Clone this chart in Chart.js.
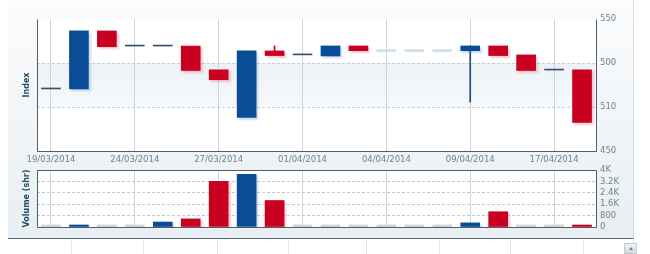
<!DOCTYPE html>
<html>
<head>
<meta charset="utf-8">
<script src="https://cdn.jsdelivr.net/npm/chart.js@4.4.1/dist/chart.umd.min.js"></script>
<style>
    html, body { margin: 0; padding: 0; background: #fff; }
    #wrap { position: relative; width: 650px; height: 254px; overflow: hidden; }
    #panel {
        position: absolute; left: 8px; top: 0; width: 625px; height: 238px;
        background: linear-gradient(#fbfcfd, #e8eef2);
        border-right: 1px solid #d4dde3; border-bottom: 1px solid #56677a;
    }
    #priceBox { position: absolute; left: 0; top: 0; width: 650px; height: 170px; }
    #volBox { position: absolute; left: 0; top: 160px; width: 650px; height: 80px; }
    .sep { position: absolute; top: 239px; width: 1px; height: 15px; background: #e2e7eb; }
    #scrollBtn {
        position: absolute; left: 624px; top: 243px; width: 13px; height: 11px;
        background: linear-gradient(#eef2f5, #d3dbe2); border: 1px solid #c3ccd4; box-sizing: border-box;
    }
    #scrollBtn:after {
        content: ''; position: absolute; left: 4px; top: 3px;
        border-left: 2px solid transparent; border-right: 2px solid transparent; border-bottom: 3px solid #6a7a88;
    }
</style>
</head>
<body>
<div id="wrap">
    <div id="panel"></div>
    <div id="priceBox"><canvas id="priceChart"></canvas></div>
    <div id="volBox"><canvas id="volChart"></canvas></div>
    <div class="sep" style="left:71px"></div>
    <div class="sep" style="left:143px"></div>
    <div class="sep" style="left:217px"></div>
    <div class="sep" style="left:288px"></div>
    <div class="sep" style="left:366px"></div>
    <div class="sep" style="left:439px"></div>
    <div class="sep" style="left:510px"></div>
    <div class="sep" style="left:583px"></div>
    <div id="scrollBtn"></div>
</div>
<script>
// ---- Data ----
const dates = ['19/03/2014', '20/03/2014', '21/03/2014', '24/03/2014', '25/03/2014',
    '26/03/2014', '27/03/2014', '28/03/2014', '31/03/2014', '01/04/2014',
    '02/04/2014', '03/04/2014', '04/04/2014', '07/04/2014', '08/04/2014',
    '09/04/2014', '11/04/2014', '15/04/2014', '17/04/2014', '22/04/2014'];
const openVals  = [497, 497, 541, 529.5, 529.5, 529.5, 511.5, 475.5, 525.8, 522.8, 522, 529.6, 525.3, 525.3, 525.3, 526, 529.6, 522.8, 511.3, 511.5];
const closeVals = [497, 541, 529, 529.5, 529.5, 511, 504, 525.8, 522.3, 522.8, 529.6, 526, 525.3, 525.3, 525.3, 529.6, 522.3, 511, 511.3, 471.7];
const highVals  = [497, 541, 541, 529.5, 529.5, 529.5, 511.5, 525.8, 529.6, 522.8, 529.6, 529.6, 525.3, 525.3, 525.3, 529.6, 529.6, 522.8, 511.3, 511.5];
const lowVals   = [497, 497, 529, 529.5, 529.5, 511, 504, 475.5, 522.3, 522.8, 522, 526, 525.3, 525.3, 525.3, 487.1, 522.3, 511, 511.3, 471.7];
const noQuoteDays = [12, 13, 14]; // drawn as pale dashes
const volumes    = [0, 10, 0, 0, 350, 570, 3210, 3690, 1860, 0, 0, 0, 0, 0, 0, 290, 1070, 0, 0, 120];
const volumeSide = ['none', 'buy', 'none', 'none', 'buy', 'sell', 'sell', 'buy', 'sell', 'none',
    'none', 'none', 'none', 'none', 'none', 'buy', 'sell', 'none', 'none', 'sell'];
const priceTickLabels = ['450', '510', '500', '550'];
const volumeTickLabels = ['0', '800', '1.6K', '2.4K', '3.2K', '4K'];

const BLUE = '#0b4c96';
const RED = '#c9001f';
const FLAT = '#34506d';
const PALE = '#cfdfea';
const GREY = '#c8cfd5';
const LABEL_FONT = { family: 'DejaVu Sans', size: 8.5 };
const BLUE_SHADOW = 'rgba(70,120,180,0.28)';
const RED_SHADOW = 'rgba(225,70,100,0.28)';

const dir = dates.map((d, i) => closeVals[i] > openVals[i] ? 'up' : (closeVals[i] < openVals[i] ? 'down' : 'flat'));

function pick(test, fn) {
    return dates.map((d, i) => test(i) ? fn(i) : null);
}

// ---- Shared plugins ----
const shadowPlugin = {
    id: 'shadow',
    beforeDatasetDraw(chart, args) {
        const ds = chart.data.datasets[args.index];
        const ctx = chart.ctx;
        ctx.save();
        if (ds.shadow) {
            ctx.shadowColor = ds.shadow;
            ctx.shadowOffsetX = 2;
            ctx.shadowOffsetY = 2;
            ctx.shadowBlur = 2;
        }
    },
    afterDatasetDraw(chart) {
        chart.ctx.restore();
    }
};

function framePlugin(opts) {
    return {
        id: 'frame',
        beforeDraw(chart) {
            const { ctx, chartArea: a } = chart;
            ctx.save();
            ctx.fillStyle = '#fff';
            ctx.fillRect(a.left, a.top, a.right - a.left, a.bottom - a.top);
            if (opts.band) {
                const y = chart.scales.y;
                const t = y.getPixelForValue(y.ticks[2].value);
                const b = y.getPixelForValue(y.ticks[1].value);
                const g = ctx.createLinearGradient(0, t, 0, b);
                g.addColorStop(0, '#edf2f6');
                g.addColorStop(1, '#f6f9fb');
                ctx.fillStyle = g;
                ctx.fillRect(a.left, t, a.right - a.left, b - t);
            }
            ctx.restore();
        },
        afterDraw(chart) {
            const { ctx, chartArea: a } = chart;
            ctx.save();
            ctx.strokeStyle = '#4f5d69';
            ctx.lineWidth = 1;
            ctx.beginPath();
            const L = Math.round(a.left) + 0.5, R = Math.round(a.right) + 0.5;
            const T = Math.round(a.top) + 0.5, B = Math.round(a.bottom) + 0.5;
            ctx.moveTo(L, T); ctx.lineTo(L, B); ctx.lineTo(R, B); ctx.lineTo(R, T);
            if (opts.top) { ctx.lineTo(L, T); }
            ctx.stroke();
            // axis title
            ctx.translate(27, (a.top + a.bottom) / 2);
            ctx.rotate(-Math.PI / 2);
            ctx.fillStyle = '#1f4c5e';
            ctx.font = 'bold 8px "DejaVu Sans"';
            ctx.textAlign = 'center';
            ctx.textBaseline = 'middle';
            ctx.fillText(opts.title, 0, 0);
            ctx.restore();
        }
    };
}

const xGridColor = (c) => (c.index % 3 === 0 ? '#cad6de' : 'transparent');

// ---- Price (candlestick) chart ----
new Chart(document.getElementById('priceChart'), {
    type: 'bar',
    data: {
        labels: dates,
        datasets: [
            {
                label: 'wick',
                data: pick(i => highVals[i] > Math.max(openVals[i], closeVals[i]) || lowVals[i] < Math.min(openVals[i], closeVals[i]),
                    i => [lowVals[i], highVals[i]]),
                backgroundColor: dates.map((d, i) => dir[i] === 'up' ? '#1d4a7e' : RED),
                barThickness: 1,
                order: 5
            },
            {
                label: 'up',
                data: pick(i => dir[i] === 'up', i => [openVals[i], closeVals[i]]),
                backgroundColor: BLUE,
                shadow: BLUE_SHADOW,
                order: 1
            },
            {
                label: 'down',
                data: pick(i => dir[i] === 'down', i => [openVals[i], closeVals[i]]),
                backgroundColor: RED,
                shadow: RED_SHADOW,
                order: 1
            },
            {
                label: 'flat',
                data: pick(i => dir[i] === 'flat' && !noQuoteDays.includes(i), i => [openVals[i], closeVals[i]]),
                backgroundColor: FLAT,
                minBarLength: 1,
                order: 1
            },
            {
                label: 'noQuote',
                data: pick(i => noQuoteDays.includes(i), i => [openVals[i], closeVals[i]]),
                backgroundColor: PALE,
                minBarLength: 2,
                order: 1
            }
        ]
    },
    options: {
        responsive: true,
        maintainAspectRatio: false,
        animation: false,
        layout: { padding: { left: 37, right: 0, top: 19, bottom: 0 } },
        datasets: { bar: { grouped: false, barThickness: 19 } },
        plugins: { legend: { display: false }, tooltip: { enabled: false } },
        scales: {
            x: {
                offset: true,
                grid: { offset: false, drawTicks: false, color: xGridColor },
                border: { display: false },
                ticks: {
                    autoSkip: false, maxRotation: 0, padding: 4,
                    color: '#71828f', font: LABEL_FONT,
                    callback: (v, i) => (i % 3 === 0 ? dates[i] : '')
                },
                afterFit: (s) => { s.height = 19; }
            },
            y: {
                position: 'right',
                min: 450,
                max: 550,
                afterBuildTicks: (s) => {
                    s.ticks = priceTickLabels.map((t, i) => ({ value: s.min + (s.max - s.min) * i / (priceTickLabels.length - 1) }));
                },
                grid: {
                    drawTicks: false,
                    color: (c) => (c.index === 0 || c.index === 3 ? 'transparent' : '#c5d0d8')
                },
                border: { display: false, dash: [3, 2] },
                ticks: {
                    autoSkip: false, padding: 4, color: '#71828f', font: LABEL_FONT,
                    callback: (v, i) => priceTickLabels[i]
                },
                afterFit: (s) => { s.width = 54; }
            }
        }
    },
    plugins: [framePlugin({ top: false, band: true, title: 'Index' }), shadowPlugin]
});

// ---- Volume chart ----
new Chart(document.getElementById('volChart'), {
    type: 'bar',
    data: {
        labels: dates,
        datasets: [
            {
                label: 'buy',
                data: pick(i => volumeSide[i] === 'buy', i => volumes[i]),
                backgroundColor: BLUE,
                shadow: BLUE_SHADOW
            },
            {
                label: 'sell',
                data: pick(i => volumeSide[i] === 'sell', i => volumes[i]),
                backgroundColor: RED,
                shadow: RED_SHADOW
            },
            {
                label: 'none',
                data: pick(i => volumeSide[i] === 'none', i => volumes[i]),
                backgroundColor: GREY
            }
        ]
    },
    options: {
        responsive: true,
        maintainAspectRatio: false,
        animation: false,
        layout: { padding: { left: 37, right: 0, top: 10, bottom: 0 } },
        datasets: { bar: { grouped: false, barThickness: 19, minBarLength: 2 } },
        plugins: { legend: { display: false }, tooltip: { enabled: false } },
        scales: {
            x: {
                offset: true,
                grid: { offset: false, drawTicks: false, color: xGridColor },
                border: { display: false },
                ticks: { display: false },
                afterFit: (s) => { s.height = 13; }
            },
            y: {
                position: 'right',
                min: 0,
                max: 4000,
                ticks: {
                    autoSkip: false, stepSize: 800, padding: 4, color: '#71828f', font: LABEL_FONT,
                    callback: (v, i) => volumeTickLabels[i]
                },
                grid: {
                    drawTicks: false,
                    color: (c) => (c.index === 0 || c.index === 5 ? 'transparent' : '#bfcbd3')
                },
                border: { display: false, dash: [3, 2] },
                afterFit: (s) => { s.width = 54; }
            }
        }
    },
    plugins: [framePlugin({ top: true, band: false, title: 'Volume (shr)' }), shadowPlugin]
});
</script>
</body>
</html>
